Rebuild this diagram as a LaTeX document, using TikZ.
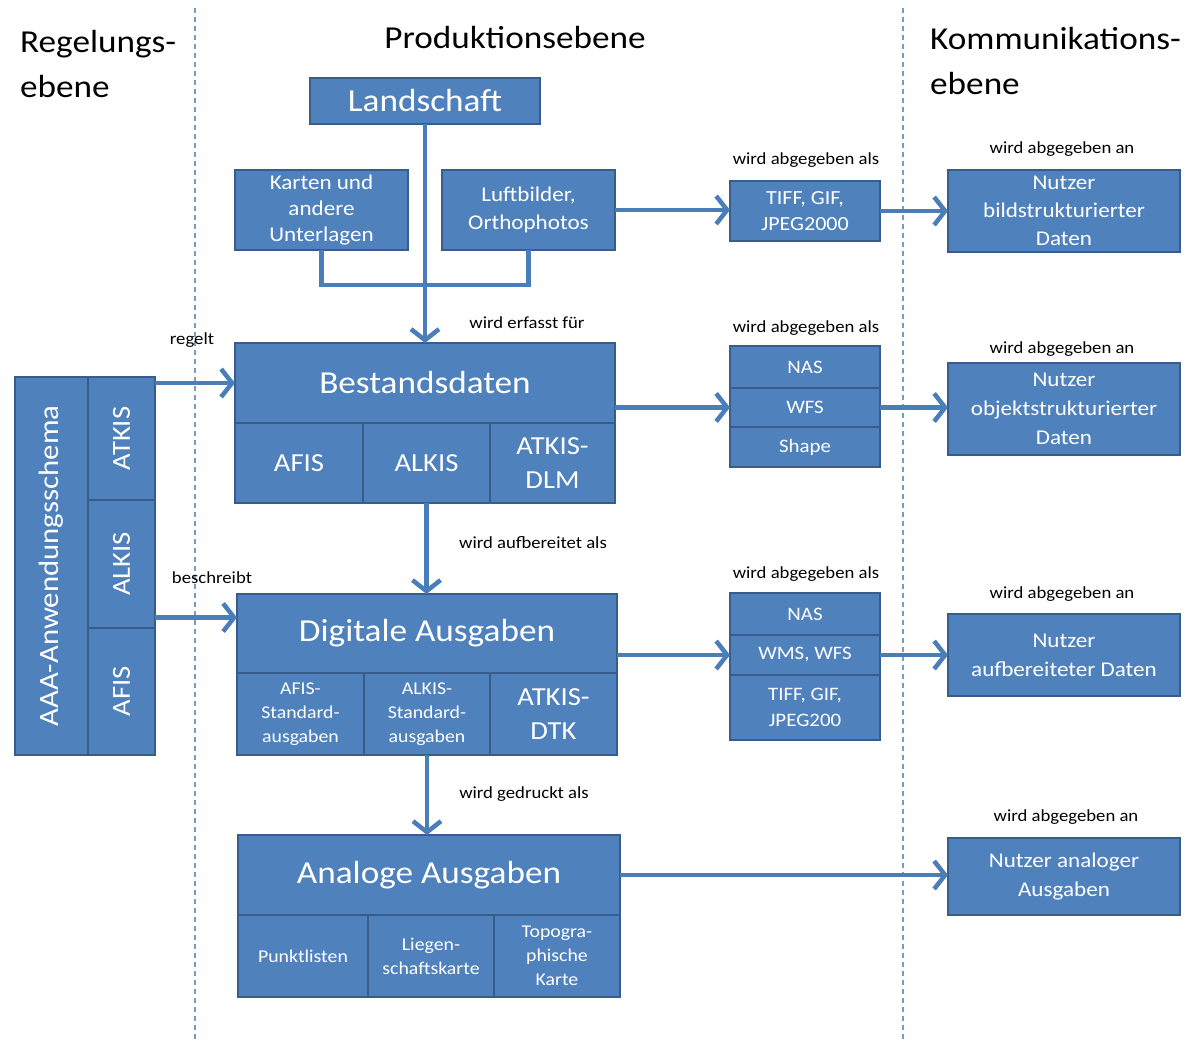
\documentclass[tikz,border=0pt]{standalone}
\usepackage{fontspec}
\setmainfont{Carlito}[FakeStretch=1.1]
\usetikzlibrary{arrows.meta}
\definecolor{boxfill}{RGB}{79,129,189}
\definecolor{boxline}{RGB}{56,93,138}
\definecolor{arrowblue}{RGB}{74,126,187}
\definecolor{sepblue}{RGB}{120,155,200}
\newcommand\fs[2]{\fontsize{#1}{#2}\selectfont}

\begin{document}
\begin{tikzpicture}[x=1pt, y=-1pt,
    B/.style={draw=boxline, fill=boxfill, line width=2.5pt, text=white,
      inner sep=0pt, outer sep=0pt, align=center, anchor=north west},
    A/.style={draw=arrowblue, line width=4.5pt, -{Straight Barb[length=11pt, width=28pt]}},
    W/.style={draw=arrowblue, line width=4.5pt},
    L/.style={font=\fs{17}{20}, inner sep=0pt},
    S/.style={draw=sepblue, line width=1.5pt, dash pattern=on 5pt off 4pt},
    H/.style={font=\fs{32}{45}, align=left, anchor=north west, inner sep=0pt}
  ]
  \useasboundingbox (0,0) rectangle (1204,1041);

  % Ebenen
  \draw[S] (195,8) -- (195,1041);
  \draw[S] (903,8) -- (903,1041);
  \node[H] (hreg) at (20,30) {Regelungs-\\ebene};
  \node[H, anchor=center] (hprod) at (515,38) {Produktionsebene};
  \node[H] (hkom) at (930,27) {Kommunikations-\\ebene};

  % Produktion
  \node[B, minimum width=230pt, minimum height=46pt, font=\fs{32}{38}] (land) at (310,78) {Landschaft};
  \node[B, minimum width=173pt, minimum height=80pt, font=\fs{21}{26}] (kart) at (235,170) {Karten und\\andere\\Unterlagen};
  \node[B, minimum width=173pt, minimum height=80pt, font=\fs{21}{28}] (luft) at (442,170) {Luftbilder,\\Orthophotos};

  \node[B, minimum width=380pt, minimum height=80pt, font=\fs{32}{38}] (best) at (235,343) {Bestandsdaten};
  \node[B, minimum width=128pt, minimum height=80pt, font=\fs{26}{34}] (bst1) at (235,423) {AFIS};
  \node[B, minimum width=127pt, minimum height=80pt, font=\fs{26}{34}] (bst2) at (363,423) {ALKIS};
  \node[B, minimum width=125pt, minimum height=80pt, font=\fs{26}{34}] (bst3) at (490,423) {ATKIS-\\DLM};

  \node[B, minimum width=380pt, minimum height=79pt, font=\fs{32}{38}] (dig) at (237,594) {Digitale Ausgaben};
  \node[B, minimum width=127pt, minimum height=82pt, font=\fs{18}{24}] (dg1) at (237,673) {AFIS-\\Standard-\\ausgaben};
  \node[B, minimum width=126pt, minimum height=82pt, font=\fs{18}{24}] (dg2) at (364,673) {ALKIS-\\Standard-\\ausgaben};
  \node[B, minimum width=127pt, minimum height=82pt, font=\fs{26}{34}] (dg3) at (490,673) {ATKIS-\\DTK};

  \node[B, minimum width=382pt, minimum height=80pt, font=\fs{32}{38}] (ana) at (238,835) {Analoge Ausgaben};
  \node[B, minimum width=130pt, minimum height=82pt, font=\fs{18}{24}] (an1) at (238,915) {Punktlisten};
  \node[B, minimum width=126pt, minimum height=82pt, font=\fs{18}{24}] (an2) at (368,915) {Liegen-\\schaftskarte};
  \node[B, minimum width=126pt, minimum height=82pt, font=\fs{18}{24}] (an3) at (494,915) {Topogra-\\phische\\Karte};

  % Formate
  \node[B, minimum width=150pt, minimum height=60pt, font=\fs{20}{26}] (tiff) at (730,181) {TIFF, GIF,\\JPEG2000};
  \node[B, minimum width=150pt, minimum height=42pt, font=\fs{19}{24}] (nas1) at (730,346) {NAS};
  \node[B, minimum width=150pt, minimum height=39pt, font=\fs{19}{24}] (wfs1) at (730,388) {WFS};
  \node[B, minimum width=150pt, minimum height=40pt, font=\fs{19}{24}] (shp) at (730,427) {Shape};
  \node[B, minimum width=150pt, minimum height=42pt, font=\fs{19}{24}] (nas2) at (730,593) {NAS};
  \node[B, minimum width=150pt, minimum height=40pt, font=\fs{19}{24}] (wms) at (730,635) {WMS, WFS};
  \node[B, minimum width=150pt, minimum height=65pt, font=\fs{19}{26}] (tif2) at (730,675) {TIFF, GIF,\\JPEG200};

  % Nutzer
  \node[B, minimum width=232pt, minimum height=82pt, font=\fs{21}{28}] (nbild) at (948,170) {Nutzer\\bildstrukturierter\\Daten};
  \node[B, minimum width=232pt, minimum height=92pt, font=\fs{21}{29}] (nobj) at (948,363) {Nutzer\\objektstrukturierter\\Daten};
  \node[B, minimum width=232pt, minimum height=82pt, font=\fs{21}{29}] (nauf) at (948,614) {Nutzer\\aufbereiteter Daten};
  \node[B, minimum width=232pt, minimum height=77pt, font=\fs{21}{29}] (nana) at (948,838) {Nutzer analoger\\Ausgaben};

  % Regelung
  \node[B, minimum width=73pt, minimum height=378pt, font=\fs{28}{32}] (aaa) at (15,377) {\rotatebox{90}{AAA-Anwendungsschema}};
  \node[B, minimum width=67pt, minimum height=123pt, font=\fs{26}{30}] (aatk) at (88,377) {\rotatebox{90}{ATKIS}};
  \node[B, minimum width=67pt, minimum height=128pt, font=\fs{26}{30}] (aalk) at (88,500) {\rotatebox{90}{ALKIS}};
  \node[B, minimum width=67pt, minimum height=127pt, font=\fs{26}{30}] (aafi) at (88,628) {\rotatebox{90}{AFIS}};

  % Beschriftungen
  \node[L] (lerf) at (527,323) {wird erfasst für};
  \node[L] (lreg) at (192,340) {regelt};
  \node[L] (lbes) at (212,578) {beschreibt};
  \node[L] (lauf) at (533,543) {wird aufbereitet als};
  \node[L] (ldru) at (524,794) {wird gedruckt als};
  \node[L] (lals1) at (806,160) {wird abgegeben als};
  \node[L] (lals2) at (806,328) {wird abgegeben als};
  \node[L] (lals3) at (806,574) {wird abgegeben als};
  \node[L] (lan1) at (1062,149) {wird abgegeben an};
  \node[L] (lan2) at (1062,349) {wird abgegeben an};
  \node[L] (lan3) at (1062,594) {wird abgegeben an};
  \node[L] (lan4) at (1066,817) {wird abgegeben an};

  % Pfeile
  \draw[W] (kart.south) -- ++(0,35) -| (luft.south);
  \draw[A] (land.south) -- (land.south |- best.north);
  \draw[A] (luft.east) -- (luft.east -| tiff.west);
  \draw[A] (tiff.east) -- (tiff.east -| nbild.west);
  \draw[A] (best.east |- wfs1) -- (wfs1.west);
  \draw[A] (wfs1.east) -- (wfs1.east -| nobj.west);
  \draw[A] (bst2.south) -- (bst2.south |- dig.north);
  \draw[A] (dig.east |- wms) -- (wms.west);
  \draw[A] (wms.east) -- (wms.east -| nauf.west);
  \draw[A] (dg2.south) -- (dg2.south |- ana.north);
  \draw[A] (ana.east) -- (ana.east -| nana.west);
  \draw[A] (best.west -| aatk.east) -- (best.west);
  \coordinate (desc) at ([yshift=16pt]dig.west);
  \draw[A] (desc -| aalk.east) -- (desc);
\end{tikzpicture}
\end{document}
